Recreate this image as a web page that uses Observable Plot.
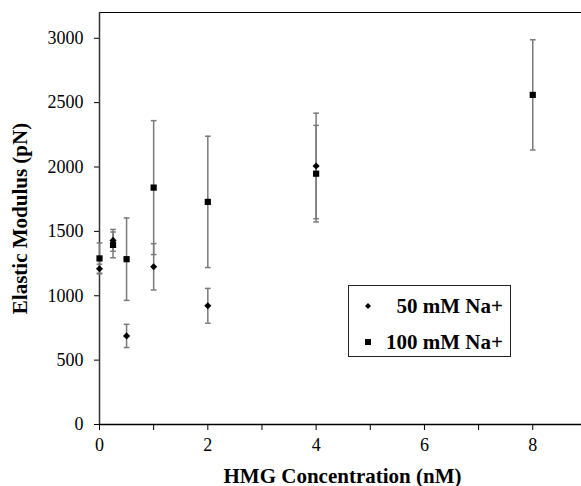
<!DOCTYPE html>
<html>
<head>
<meta charset="utf-8">
<script src="https://cdn.jsdelivr.net/npm/d3@7"></script>
<script src="https://cdn.jsdelivr.net/npm/@observablehq/plot@0.6"></script>
<style>
  body { margin: 0; background: #fff; }
  #wrap { position: relative; width: 581px; height: 486px; }
  #legend { position: absolute; left: 348px; top: 285px; width: 163px; height: 72px; border: 1px solid #222; background: #fff; box-sizing: border-box; font-family: "Liberation Serif", "DejaVu Serif", serif; }
  .row { position: absolute; left: 0; width: 100%; height: 30px; font-weight: bold; font-size: 21px; line-height: 30px; }
  .row .lab { position: absolute; right: 7px; top: 0; }
  .row .mk { position: absolute; left: 14px; top: 10px; }
</style>
</head>
<body>
<div id="wrap"><div id="legend"><div class="row" style="top:5px"><svg class="mk" width="10" height="10"><path d="M5,2L8,5L5,8L2,5Z" fill="#000"/></svg><span class="lab" id="l1"></span></div><div class="row" style="top:41px"><svg class="mk" width="10" height="10"><rect x="2" y="2" width="6" height="6" fill="#000"/></svg><span class="lab" id="l2"></span></div></div></div>
<script>
// ---- data ----
const seriesNames = ["50 mM Na+", "100 mM Na+"];
const conc50  = [0, 0.25, 0.5, 1, 2, 4];
const mean50  = [1210, 1430, 688, 1225, 922, 2008];
const err50   = [35, 85, 90, 180, 135, 410];
const conc100 = [0, 0.25, 0.5, 1, 2, 4, 8];
const mean100 = [1290, 1395, 1284, 1840, 1729, 1948, 2560];
const err100  = [120, 100, 320, 520, 510, 375, 428];
const xTicks = [0, 1, 2, 3, 4, 5, 6, 7, 8];
const yTicks = [0, 500, 1000, 1500, 2000, 2500, 3000];
const xDomain = [0, 8.9];
const yDomain = [0, 3200];
const xTitle = "HMG Concentration (nM)";
const yTitle = "Elastic Modulus (pN)";

const rows = [
  ...conc50.map((c, i) => ({series: seriesNames[0], x: c, y: mean50[i], lo: mean50[i] - err50[i], hi: mean50[i] + err50[i]})),
  ...conc100.map((c, i) => ({series: seriesNames[1], x: c, y: mean100[i], lo: mean100[i] - err100[i], hi: mean100[i] + err100[i]}))
];
const s50 = rows.filter(d => d.series === seriesNames[0]);
const s100 = rows.filter(d => d.series === seriesNames[1]);

const capSymbol = {draw(ctx, size) { const r = Math.sqrt(size) / 2; ctx.moveTo(-r, 0); ctx.lineTo(r, 0); }};
const errColor = "#7a7a7a";
const serif = "Liberation Serif, DejaVu Serif, serif";

const chart = Plot.plot({
  width: 581,
  height: 486,
  marginLeft: 99,
  marginRight: 0,
  marginTop: 12,
  marginBottom: 62,
  style: {fontFamily: serif, fontSize: "18px", background: "#fff", color: "#000"},
  x: {domain: xDomain},
  y: {domain: yDomain},
  marks: [
    Plot.axisY({ticks: yTicks, tickSize: 5, tickPadding: 11, label: null, fontSize: 18, tickFormat: d => String(d)}),
    Plot.axisX({ticks: xTicks, tickSize: 6, tickPadding: 8, label: null, fontSize: 18, tickFormat: d => d % 2 === 0 ? String(d) : ""}),
    Plot.ruleY([yDomain[1]], {stroke: "#000", strokeWidth: 1.2}),
    Plot.ruleX([xDomain[0]], {stroke: "#333", strokeWidth: 1.5}),
    Plot.ruleY([yDomain[0]], {stroke: "#000", strokeWidth: 1.5}),
    Plot.ruleX(rows, {x: "x", y1: "lo", y2: "hi", stroke: errColor, strokeWidth: 1.5}),
    Plot.dot(rows, {x: "x", y: "lo", symbol: capSymbol, r: 3.2, stroke: errColor, fill: "none", strokeWidth: 1.5}),
    Plot.dot(rows, {x: "x", y: "hi", symbol: capSymbol, r: 3.2, stroke: errColor, fill: "none", strokeWidth: 1.5}),
    Plot.dot(s100, {x: "x", y: "y", symbol: "square", r: 3.5, fill: "#000", stroke: "none"}),
    Plot.dot(s50, {x: "x", y: "y", symbol: "diamond2", r: 3.2, fill: "#000", stroke: "none"}),
    Plot.text([xTitle], {frameAnchor: "bottom", dy: 58, dx: 2, text: d => d, fontWeight: "bold", fontSize: 21, textAnchor: "middle"}),
    Plot.text([yTitle], {frameAnchor: "left", dx: -79, rotate: -90, text: d => d, fontWeight: "bold", fontSize: 21, textAnchor: "middle"})
  ]
});
const wrap = document.getElementById("wrap");
wrap.insertBefore(chart, wrap.firstChild);
document.getElementById("l1").textContent = seriesNames[0];
document.getElementById("l2").textContent = seriesNames[1];
</script>
</body>
</html>
